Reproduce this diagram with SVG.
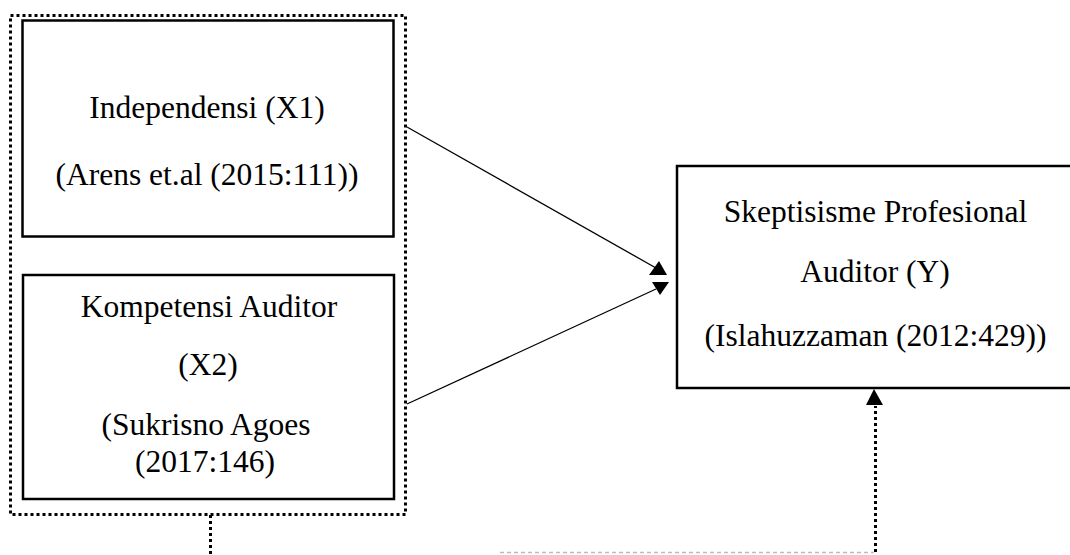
<svg xmlns="http://www.w3.org/2000/svg" width="1070" height="555" viewBox="0 0 1070 555">
<style>
.box{fill:#fff;stroke:#000;stroke-width:2.5}
.dot{fill:none;stroke:#000;stroke-width:3;stroke-dasharray:3 3}
.t{font-family:"Liberation Serif","Times New Roman",serif;font-size:31.5px;fill:#000;text-anchor:middle}
.ln{stroke:#000;stroke-width:1.3;fill:none}
</style>
<rect width="1070" height="555" fill="#fff"/>
<g id="group-x">
<rect class="dot" x="10.5" y="15.5" width="395" height="499"/>
</g>
<g id="node-x1">
<rect class="box" x="22.5" y="20.5" width="371" height="216"/>
<text class="t" x="207" y="118">Independensi (X1)</text>
<text class="t" x="207" y="185">(Arens et.al (2015:111))</text>
</g>
<g id="node-x2">
<rect class="box" x="23" y="275" width="371" height="224"/>
<text class="t" x="209" y="317">Kompetensi Auditor</text>
<text class="t" x="208" y="375">(X2)</text>
<text class="t" x="206" y="435">(Sukrisno Agoes</text>
<text class="t" x="205" y="472">(2017:146)</text>
</g>
<g id="node-y">
<rect class="box" x="677" y="166" width="400" height="222"/>
<text class="t" x="875.5" y="222">Skeptisisme Profesional</text>
<text class="t" x="875" y="282">Auditor (Y)</text>
<text class="t" x="875.5" y="346">(Islahuzzaman (2012:429))</text>
</g>
<g id="connectors">
<line class="ln" x1="407" y1="127" x2="656" y2="268"/>
<polygon points="659,261 649,275 667,275" fill="#000"/>
<line class="ln" x1="407" y1="404" x2="656" y2="289"/>
<polygon points="652,282 669,282 660,295" fill="#000"/>
<line class="dot" x1="210.5" y1="515" x2="210.5" y2="555"/>
<line x1="500" y1="552.5" x2="874" y2="552.5" stroke="#bbb" stroke-width="1.5" stroke-dasharray="4 3"/>
<line class="dot" x1="875.5" y1="552" x2="875.5" y2="406"/>
<polygon points="874,389 866,405 883,405" fill="#000"/>
</g>
</svg>
